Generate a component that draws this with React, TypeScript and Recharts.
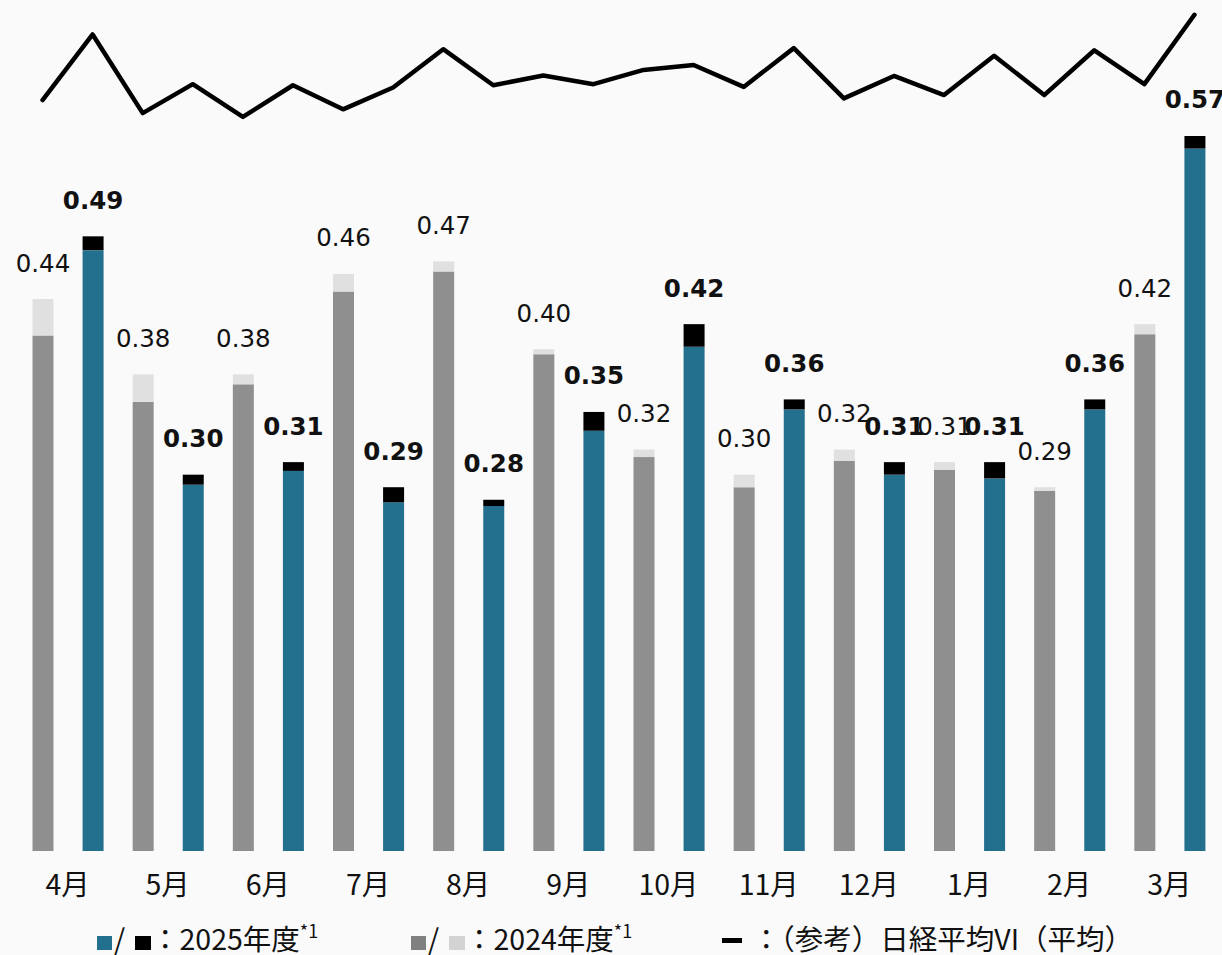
import React from 'react';
import { ComposedChart, Bar, Line, XAxis, YAxis, Cell, LabelList } from 'recharts';

// Fiscal-year months (April to March)
const months = ['4月', '5月', '6月', '7月', '8月', '9月', '10月', '11月', '12月', '1月', '2月', '3月'];

// Monthly totals shown above each bar
const total2024 = [0.44, 0.38, 0.38, 0.46, 0.47, 0.40, 0.32, 0.30, 0.32, 0.31, 0.29, 0.42];
const total2025 = [0.49, 0.30, 0.31, 0.29, 0.28, 0.35, 0.42, 0.36, 0.31, 0.31, 0.36, 0.57];

// Top segment of each bar (lighter / black cap)
const cap2024 = [0.029, 0.022, 0.008, 0.014, 0.008, 0.004, 0.006, 0.010, 0.009, 0.006, 0.003, 0.008];
const cap2025 = [0.011, 0.008, 0.007, 0.012, 0.005, 0.015, 0.018, 0.008, 0.010, 0.013, 0.008, 0.010];

// Reference: Nikkei VI monthly average
const vi2024 = [21.1, 18.7, 18.0, 19.4, 30.4, 25.6, 26.6, 23.5, 21.4, 22.0, 22.0, 24.0];
const vi2025 = [33.1, 24.0, 23.8, 23.4, 23.8, 24.0, 27.5, 30.6, 25.5, 29.2, 30.2, 36.7];

const TEAL = '#236f8e';
const GRAY = '#8f8f8f';
const LIGHT = '#e0e0e0';
const BLACK = '#000000';
const TEXT = '#111111';

const JP_FONT = '"Noto Sans CJK JP", "Noto Sans", sans-serif';
const NUM_FONT = '"DejaVu Sans", Verdana, sans-serif';

type Row = {
  key: string;
  month: string;
  year: number;
  total: number;
  cap: number;
  base: number;
  vi: number;
};

const rows: Row[] = months.flatMap((m, i) => [
  {
    key: `${m}-2024`,
    month: m,
    year: 2024,
    total: total2024[i],
    cap: cap2024[i],
    base: +(total2024[i] - cap2024[i]).toFixed(4),
    vi: vi2024[i],
  },
  {
    key: `${m}-2025`,
    month: m,
    year: 2025,
    total: total2025[i],
    cap: cap2025[i],
    base: +(total2025[i] - cap2025[i]).toFixed(4),
    vi: vi2025[i],
  },
]);

const MonthTick = (props: any) => {
  const { x, y, index } = props;
  if (index % 2 !== 0) return <g />;
  const row = rows[index];
  return (
    <text
      x={x + 25}
      y={y + 36}
      textAnchor="middle"
      fontFamily={JP_FONT}
      fontSize={28.5}
      fill={TEXT}
    >
      {row.month}
    </text>
  );
};

const ValueLabel = (props: any) => {
  const { x, y, width, value, index } = props;
  const is2025 = rows[index].year === 2025;
  return (
    <text
      x={x + width / 2}
      y={y - 27.5}
      textAnchor="middle"
      fontFamily={NUM_FONT}
      fontSize={24.5}
      fontWeight={is2025 ? 'bold' : 'normal'}
      fill={TEXT}
    >
      {Number(value).toFixed(2)}
    </text>
  );
};

const LegendLayer = () => (
  <svg
    width={1222}
    height={955}
    style={{ position: 'absolute', left: 0, top: 0, pointerEvents: 'none' }}
  >
    <g fontFamily={JP_FONT} fontSize={28.5} fill={TEXT}>
      <rect x={97} y={936} width={15} height={14} fill={TEAL} />
      <text x={114} y={950}>/</text>
      <rect x={135} y={936} width={16} height={14} fill={BLACK} />
      <text x={151} y={950}>
        ：2025年度
        <tspan fontSize={18} dy={-12}>*1</tspan>
      </text>

      <rect x={411} y={936} width={15} height={14} fill="#808080" />
      <text x={428} y={950}>/</text>
      <rect x={449} y={936} width={16} height={14} fill="#d3d3d3" />
      <text x={465} y={950}>
        ：2024年度
        <tspan fontSize={18} dy={-12}>*1</tspan>
      </text>

      <rect x={722} y={938} width={20} height={5} fill={BLACK} />
      <text x={752} y={950}>：（参考）日経平均VI（平均）</text>
    </g>
  </svg>
);

export default function App() {
  return (
    <div
      style={{
        position: 'absolute',
        left: 0,
        top: 0,
        width: 1222,
        height: 955,
        background: '#fafafa',
        overflow: 'hidden',
      }}
    >
      <ComposedChart
        width={1222}
        height={955}
        data={rows}
        margin={{ top: 0, right: 2.5, left: 17.5, bottom: 54 }}
      >
        <XAxis
          dataKey="key"
          interval={0}
          axisLine={false}
          tickLine={false}
          height={50}
          tick={<MonthTick />}
        />
        <YAxis yAxisId="v" hide domain={[0, 0.6784]} allowDataOverflow />
        <YAxis yAxisId="vi" hide domain={[-116.3, 39.4]} allowDataOverflow />
        <Bar dataKey="base" stackId="s" yAxisId="v" barSize={21} isAnimationActive={false}>
          {rows.map((r) => (
            <Cell key={`b-${r.key}`} fill={r.year === 2025 ? TEAL : GRAY} />
          ))}
        </Bar>
        <Bar dataKey="cap" stackId="s" yAxisId="v" barSize={21} isAnimationActive={false}>
          {rows.map((r) => (
            <Cell key={`c-${r.key}`} fill={r.year === 2025 ? BLACK : LIGHT} />
          ))}
          <LabelList dataKey="total" content={<ValueLabel />} />
        </Bar>
        <Line
          type="linear"
          dataKey="vi"
          yAxisId="vi"
          stroke={BLACK}
          strokeWidth={4.5}
          strokeLinecap="round"
          strokeLinejoin="round"
          dot={false}
          activeDot={false}
          isAnimationActive={false}
        />
      </ComposedChart>
      <LegendLayer />
    </div>
  );
}
